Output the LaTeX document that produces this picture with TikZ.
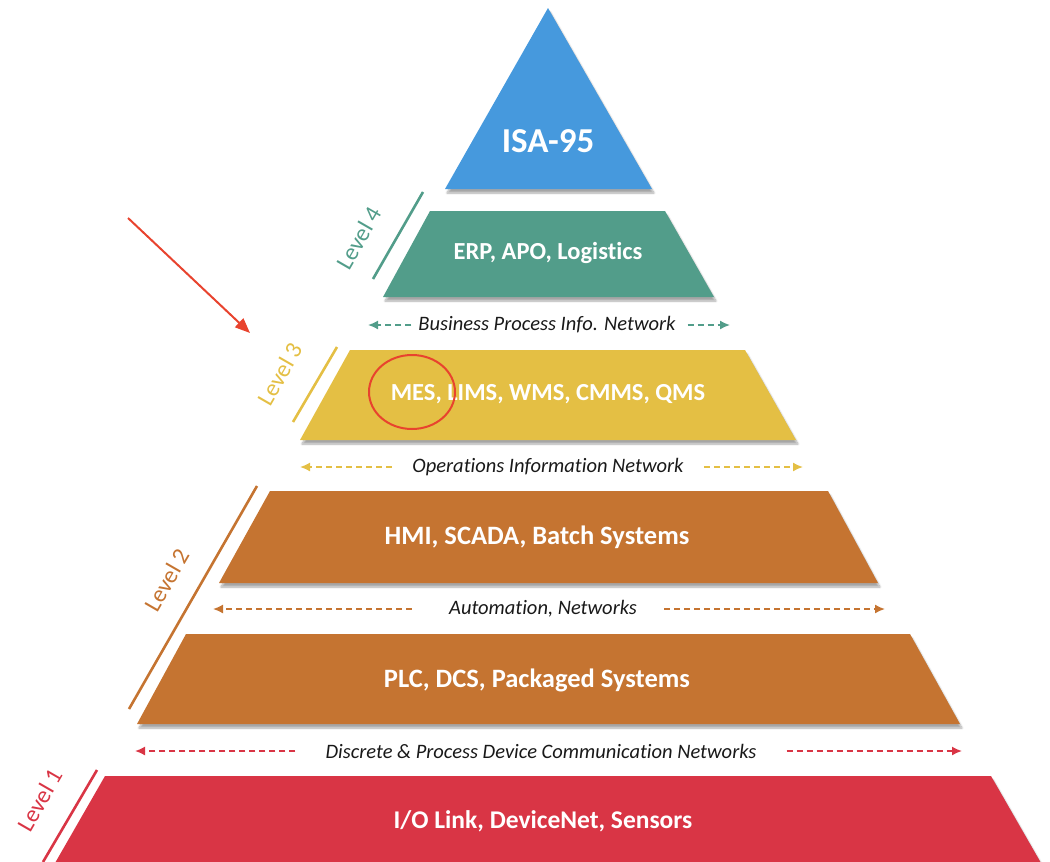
\documentclass[tikz,border=0pt]{standalone}
\usepackage{fontspec}
\setmainfont{Carlito}[Ligatures=CommonOff]
\usetikzlibrary{arrows.meta,shadows.blur}
\definecolor{isablue}{HTML}{4699DD}
\definecolor{lvfour}{HTML}{529D8A}
\definecolor{lvthree}{HTML}{E4BF44}
\definecolor{lvtwo}{HTML}{C57431}
\definecolor{lvone}{HTML}{D93545}
\definecolor{markred}{HTML}{E8432E}
\tikzset{
  layer/.style={fill=#1,blur shadow={shadow xshift=2pt,shadow yshift=-4pt,shadow blur steps=8,shadow opacity=35}},
  layertext/.style={text=white,font=\bfseries\fontsize{#1}{#1}\selectfont},
  layertext/.default=24.5,
  nettext/.style={inner sep=0pt,text=black!90,font=\itshape\fontsize{20.5}{20.5}\selectfont},
  net/.style={#1,line width=1.6pt,dash pattern=on 6pt off 4pt,-{Latex[length=10pt,width=9pt]}},
  lvline/.style={#1,line width=2.6pt},
  lvtext/.style={#1,inner sep=1pt,rotate=60,font=\fontsize{24}{24}\selectfont}
}
\begin{document}
\begin{tikzpicture}[x=1pt,y=-1pt]
    \useasboundingbox(0,0)rectangle(1050,862);

    % pyramid
    \fill[layer=isablue](548,8)--(652,189)--(445,189)--cycle;
    \fill[layer=lvfour](430,211)--(665,211)--(714,297)--(383,297)--cycle;
    \fill[layer=lvthree](350,350)--(745,350)--(796,440)--(300,440)--cycle;
    \fill[layer=lvtwo](270,491)--(828,491)--(878,583)--(219,583)--cycle;
    \fill[layer=lvtwo](186,634)--(910,634)--(960,724)--(137,724)--cycle;
    \fill[layer=lvone](105,776)--(991,776)--(1045,870)--(51,870)--cycle;

    \node[text=white,font=\bfseries\fontsize{35}{35}\selectfont](isa)at(548,141){ISA-95};
    \node[layertext](erp)at(548,253){ERP, APO, Logistics};
    \node[layertext](mes)at(548,394){MES, LIMS, WMS, CMMS, QMS};
    \node[layertext=26.5](hmi)at(537,537){HMI, SCADA, Batch Systems};
    \node[layertext=26.5](plc)at(537,680){PLC, DCS, Packaged Systems};
    \node[layertext=25.5](iol)at(543,821){I/O Link, DeviceNet, Sensors};

    % networks
    \node[nettext](bpn)at(547,325){Business Process Info. Network};
    \node[nettext](oin)at(548,467){Operations Information Network};
    \node[nettext](aut)at(543,609){Automation, Networks};
    \node[nettext](dpd)at(541,751){Discrete \& Process Device Communication Networks};
    \coordinate(bpnL)at(368,325); \coordinate(bpnR)at(730,325);
    \coordinate(oinL)at(300,467); \coordinate(oinR)at(803,467);
    \coordinate(autL)at(213,609); \coordinate(autR)at(885,609);
    \coordinate(dpdL)at(135,751); \coordinate(dpdR)at(962,751);
    \draw[net=lvfour,shorten <=7pt](bpn.west)--(bpnL);
    \draw[net=lvfour,shorten <=12pt](bpn.east)--(bpnR);
    \draw[net=lvthree,shorten <=20pt](oin.west)--(oinL);
    \draw[net=lvthree,shorten <=20pt](oin.east)--(oinR);
    \draw[net=lvtwo,shorten <=37pt](aut.west)--(autL);
    \draw[net=lvtwo,shorten <=27pt](aut.east)--(autR);
    \draw[net=lvone,shorten <=30pt](dpd.west)--(dpdL);
    \draw[net=lvone,shorten <=30pt](dpd.east)--(dpdR);

    % levels
    \draw[lvline=lvfour](423,192)--(373,279);
    \node[lvtext=lvfour](lvl4)at(359,238){Level 4};
    \draw[lvline=lvthree](337,347)--(293,422);
    \node[lvtext=lvthree](lvl3)at(280,374){Level 3};
    \draw[lvline=lvtwo](257,486)--(129,709);
    \node[lvtext=lvtwo](lvl2)at(167,580){Level 2};
    \draw[lvline=lvone](97,770)--(43,862);
    \node[lvtext=lvone](lvl1)at(40,800){Level 1};

    % highlight
    \draw[markred,line width=2pt](412,392)ellipse[x radius=43,y radius=37];
    \coordinate(arrS)at(128,218); \coordinate(arrE)at(250,333);
    \draw[markred,line width=2pt,-{Triangle[length=15pt,width=12pt]}](arrS)--(arrE);
\end{tikzpicture}
\end{document}
